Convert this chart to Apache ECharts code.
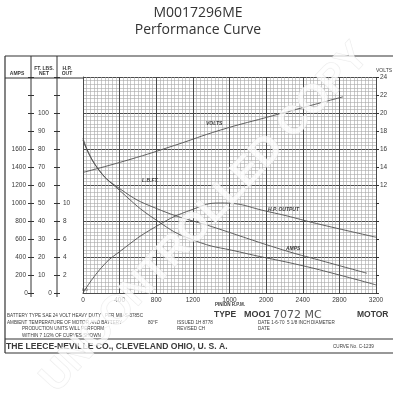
<!DOCTYPE html>
<html><head><meta charset="utf-8">
<script src="https://cdn.jsdelivr.net/npm/echarts@6/dist/echarts.min.js"></script>
<style>html,body{margin:0;padding:0;background:#fff}#c{width:396px;height:400px}</style>
</head><body><div id="c"></div>
<script>
// ---- data ----
const rpmTicks = [0, 400, 800, 1200, 1600, 2000, 2400, 2800, 3200];
const voltsRpm = [0, 500, 1000, 1500, 2000, 2400, 2840];
const voltsVal = [13.4, 14.8, 16.4, 18.1, 19.5, 20.6, 21.8];
const torqueRpm = [0, 150, 400, 800, 1460, 2180, 2600, 3100];
const torqueVal = [86, 70, 58, 47, 36, 24, 18, 11];
const hpRpm = [0, 200, 400, 800, 1200, 1500, 2040, 2600, 3200];
const hpVal = [0, 2.8, 4.6, 7.4, 9.3, 10.0, 9.0, 7.6, 6.2];
const ampsRpm = [0, 150, 400, 800, 1200, 1710, 2370, 2800, 3200];
const ampsVal = [1700, 1400, 1140, 810, 590, 456, 310, 200, 90];

const GL = 83, GT = 77, GW = 293, GH = 216;
const F = '"Liberation Sans", Arial, sans-serif';
const ink = '#3a3a3a';

function pairs(xs, ys) { return xs.map((x, i) => [x, ys[i]]); }
function t(x, y, text, size, opts) {
  return Object.assign({ type: 'text', x: x, y: y, z: 50,
    style: Object.assign({ text: text, font: (opts && opts.font) || (size + 'px ' + F), fill: ink, align: 'left', verticalAlign: 'middle' }, (opts && opts.style) || {}) }, {});
}
function line(x1, y1, x2, y2, w, c) {
  return { type: 'line', z: 40, shape: { x1: x1, y1: y1, x2: x2, y2: y2 }, style: { stroke: c || '#333', lineWidth: w || 1 } };
}

const chart = echarts.init(document.getElementById('c'), null, { renderer: 'canvas' });
const lab = { fontFamily: F, color: ink };
const major = { color: '#4a4a4a', width: 1 };
const minor = { color: '#a8a8a8', width: 0.6 };
const curve = { color: '#505050', width: 0.9 };

const option = {
  animation: false,
  backgroundColor: '#fff',
  title: [
    { text: 'M0017296ME', left: 'center', top: 1, textStyle: { fontFamily: '"Open Sans", sans-serif', fontWeight: 'normal', fontSize: 14, color: '#333' } },
    { text: 'Performance Curve', left: 'center', top: 18, textStyle: { fontFamily: '"Open Sans", sans-serif', fontWeight: 'normal', fontSize: 14, color: '#333' } }
  ],
  grid: { left: GL, top: GT, width: GW, height: GH, show: false },
  xAxis: {
    type: 'value', min: 0, max: 3200, interval: 400,
    axisLine: { show: true, lineStyle: major },
    axisTick: { show: false },
    axisLabel: { ...lab, fontSize: 6.5, margin: 4, formatter: v => rpmTicks.includes(v) ? String(v) : '' },
    splitLine: { show: true, lineStyle: major },
    minorTick: { show: false, splitNumber: 10 },
    minorSplitLine: { show: true, lineStyle: minor }
  },
  yAxis: [
    { // grid helper
      type: 'value', min: 0, max: 24, interval: 4, position: 'right',
      axisLine: { show: true, lineStyle: major }, axisTick: { show: false }, axisLabel: { show: false },
      splitLine: { show: true, lineStyle: major },
      minorTick: { show: false, splitNumber: 10 },
      minorSplitLine: { show: true, lineStyle: minor }
    },
    { // volts
      type: 'value', min: 0, max: 24, interval: 2, position: 'right',
      name: 'VOLTS', nameGap: 3, nameTextStyle: { ...lab, fontSize: 5, align: 'left', padding: [0, 0, 0, 0] },
      axisLine: { show: false }, axisTick: { show: true, length: 3, lineStyle: { color: '#333' } },
      axisLabel: { ...lab, fontSize: 6.5, margin: 4, formatter: v => v >= 12 ? String(v) : '' },
      splitLine: { show: false }
    },
    { // amps
      type: 'value', min: 0, max: 2400, interval: 200, position: 'left', offset: 52,
      axisLine: { show: false }, axisTick: { show: true, length: 3, lineStyle: { color: '#333' } },
      axisLabel: { ...lab, fontSize: 6.5, margin: 5, formatter: v => (v >= 200 && v <= 1600) ? String(v) : '' },
      splitLine: { show: false }
    },
    { // ft lbs
      type: 'value', min: 0, max: 120, interval: 10, position: 'left', offset: 52,
      axisLine: { show: false }, axisTick: { show: true, inside: true, length: 3, lineStyle: { color: '#333' } },
      axisLabel: { ...lab, fontSize: 6.5, inside: true, margin: 7, formatter: v => (v >= 10 && v <= 100) ? String(v) : '' },
      splitLine: { show: false }
    },
    { // hp
      type: 'value', min: 0, max: 24, interval: 2, position: 'left', offset: 26,
      axisLine: { show: false }, axisTick: { show: true, inside: true, length: 3, lineStyle: { color: '#333' } },
      axisLabel: { ...lab, fontSize: 6.5, inside: true, margin: 6, formatter: v => (v >= 2 && v <= 10) ? String(v) : '' },
      splitLine: { show: false }
    },
    { // hp outer ticks
      type: 'value', min: 0, max: 24, interval: 2, position: 'left', offset: 26,
      axisLine: { show: false }, axisTick: { show: true, length: 3, lineStyle: { color: '#333' } },
      axisLabel: { show: false }, splitLine: { show: false }
    }
  ],
  series: [
    { type: 'line', yAxisIndex: 1, smooth: true, showSymbol: false, data: pairs(voltsRpm, voltsVal), lineStyle: curve },
    { type: 'line', yAxisIndex: 3, smooth: true, showSymbol: false, data: pairs(torqueRpm, torqueVal), lineStyle: curve },
    { type: 'line', yAxisIndex: 4, smooth: true, showSymbol: false, data: pairs(hpRpm, hpVal), lineStyle: curve },
    { type: 'line', yAxisIndex: 2, smooth: true, showSymbol: false, data: pairs(ampsRpm, ampsVal), lineStyle: curve }
  ],
  graphic: [
    line(5, 56, 393, 56, 1.2), line(5, 56, 5, 353, 1.2), line(5, 353, 393, 353, 1.2),
    line(5, 78, 83, 78, 1), line(31, 56, 31, 297, 1), line(57, 56, 57, 297, 1),
    line(5, 339, 393, 339, 1),
    t(17, 74, 'AMPS', 5, { style: { align: 'center', font: 'bold 5px ' + F } }),
    t(44, 69, 'FT. LBS.', 5, { style: { align: 'center', font: 'bold 5px ' + F } }),
    t(44, 74, 'NET', 5, { style: { align: 'center', font: 'bold 5px ' + F } }),
    t(67, 69, 'H.P.', 5, { style: { align: 'center', font: 'bold 5px ' + F } }),
    t(67, 74, 'OUT', 5, { style: { align: 'center', font: 'bold 5px ' + F } }),
    t(26, 293, '0', 6.5, { style: { align: 'center' } }),
    t(50, 293, '0', 6.5, { style: { align: 'center' } }),
    t(85, 290, '0.0', 4, { style: { align: 'center', font: '4px ' + F } }),
    t(230, 305, 'PINION R.P.M.', 5, { style: { align: 'center', font: 'bold 4.5px ' + F } }),
    t(206, 124, 'VOLTS', 5, { style: { font: 'italic bold 5px ' + F } }),
    t(142, 181, 'L.B.FT.', 5, { style: { font: 'italic bold 5px ' + F } }),
    t(268, 210, 'H.P. OUTPUT', 5, { style: { font: 'italic bold 5px ' + F } }),
    t(286, 249, 'AMPS', 5, { style: { font: 'italic bold 5px ' + F } }),
    t(7, 316, 'BATTERY TYPE SAE 24 VOLT HEAVY DUTY   PER MIL-S-3785C', 5, { style: { font: '4.6px ' + F } }),
    t(7, 323, 'AMBIENT TEMPERATURE OF MOTOR AND BATTERY', 5, { style: { font: '4.6px ' + F } }),
    t(148, 323, '80°F', 5, { style: { font: '4.6px ' + F } }),
    t(177, 323, 'ISSUED 1H 8778', 5, { style: { font: '4.6px ' + F } }),
    t(258, 323, 'DATE 1-6-70  5 1/8 INCH DIAMETER', 5, { style: { font: '4.6px ' + F } }),
    t(22, 329, 'PRODUCTION UNITS WILL PERFORM', 5, { style: { font: '4.6px ' + F } }),
    t(177, 329, 'REVISED CH', 5, { style: { font: '4.6px ' + F } }),
    t(258, 329, 'DATE', 5, { style: { font: '4.6px ' + F } }),
    t(22, 336, 'WITHIN 7 1/2% OF CURVES SHOWN', 5, { style: { font: '4.6px ' + F } }),
    t(214, 315, 'TYPE', 8, { style: { font: 'bold 8.5px ' + F } }),
    t(244, 315, 'MOO1', 8, { style: { font: 'bold 9px ' + F } }),
    t(273, 315, '7072 MC', 11, { style: { font: '11px "DejaVu Sans", sans-serif', fill: '#555' } }),
    t(357, 315, 'MOTOR', 8, { style: { font: 'bold 8.5px ' + F } }),
    t(6, 347, 'THE LEECE-NEVILLE CO., CLEVELAND OHIO, U. S. A.', 9, { style: { font: 'bold 8.6px ' + F } }),
    t(333, 347, 'CURVE No. C-1239', 5, { style: { font: '4.6px ' + F } }),
    { type: 'text', z: 100, x: 205, y: 218, rotation: 47 * Math.PI / 180, silent: true,
      style: { text: 'UNCONTROLLED COPY', font: 'bold 40px ' + F, fill: 'rgba(255,255,255,0.75)', stroke: 'rgba(215,215,215,0.5)', lineWidth: 1, align: 'center', verticalAlign: 'middle' } }
  ]
};
chart.setOption(option);
</script>
</body></html>
